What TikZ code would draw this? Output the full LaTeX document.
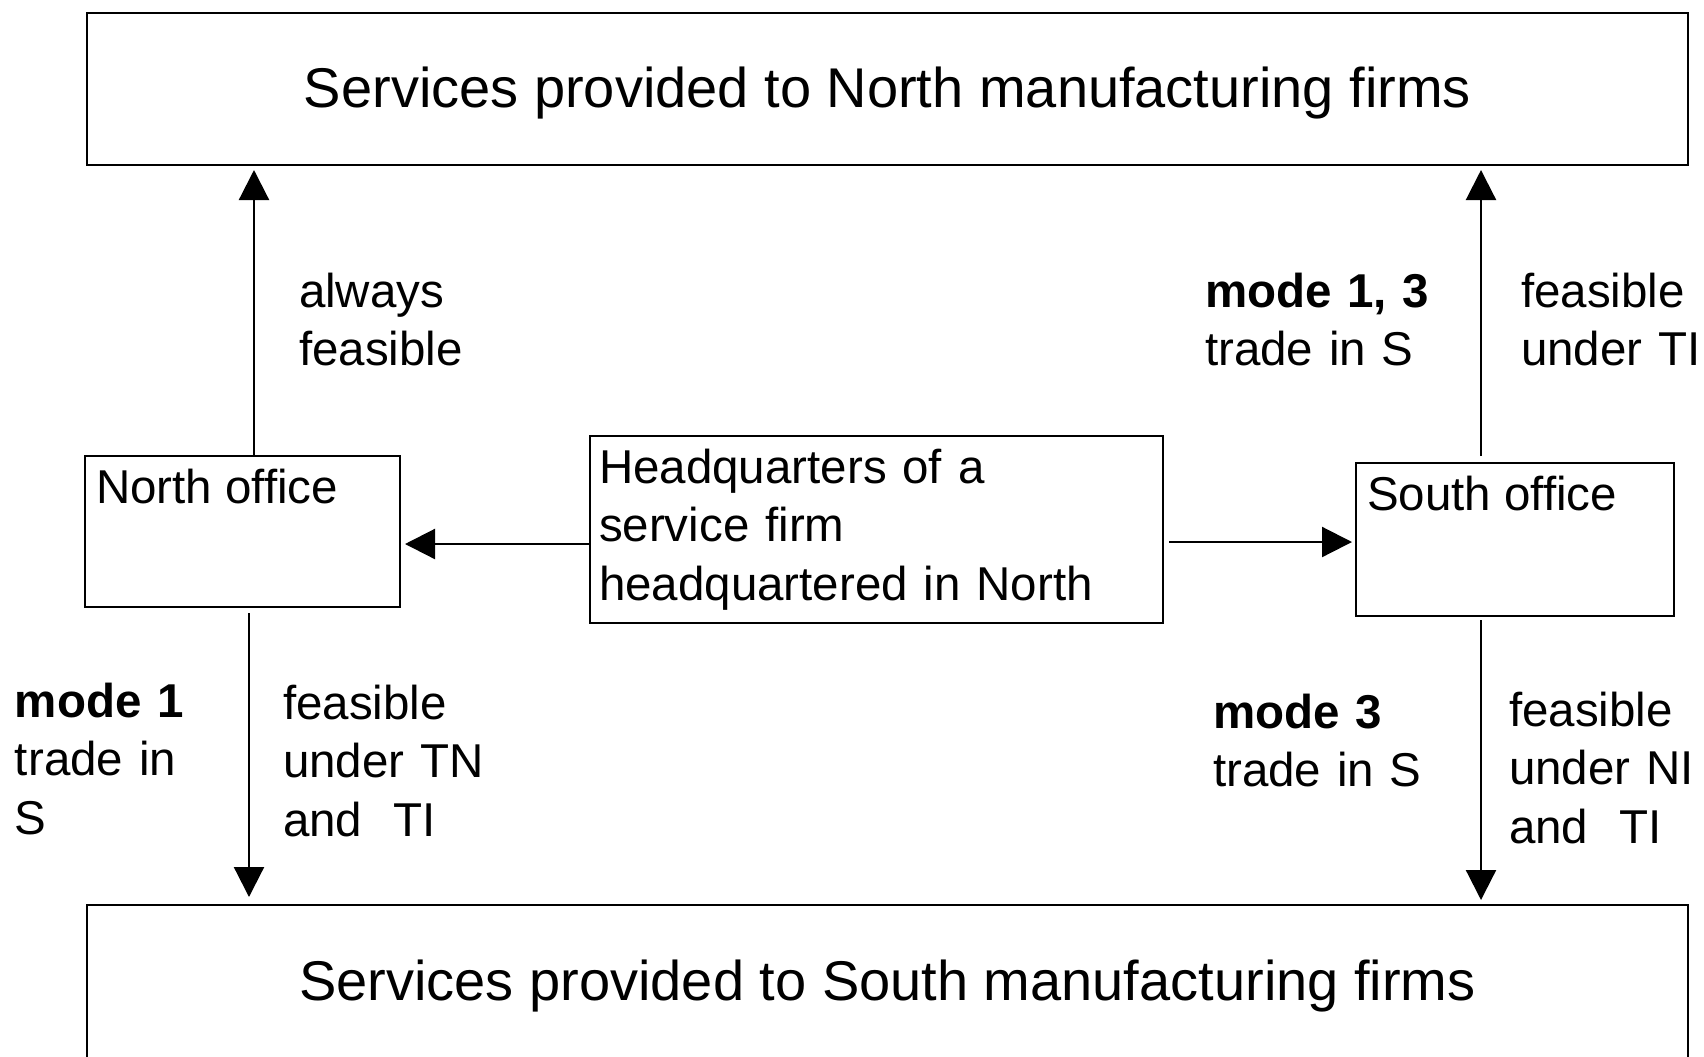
\documentclass[tikz,border=0pt]{standalone}
\usepackage{fontspec}
\setmainfont{Liberation Sans}
\usetikzlibrary{arrows.meta}
\newcommand\labfont{\fontsize{23.75pt}{29.25pt}\selectfont}
\newcommand\titlefont{\fontsize{28pt}{34pt}\selectfont}
\begin{document}
\begin{tikzpicture}[x=0.5pt, y=-0.5pt,
  every node/.style={inner sep=0pt, outer sep=0pt},
  bigbox/.style={draw, line width=1.1pt, minimum width=800.5pt, minimum height=76pt,
                 font=\titlefont, text height=18pt, text depth=0pt},
  officebox/.style={draw, line width=1.1pt},
  officetext/.style={anchor=base west, xshift=5.5pt, yshift=-23.5pt, font=\labfont},
  lab/.style={anchor=base west, align=left, text width=130pt, font=\labfont},
  arr/.style={line width=1.1pt, -{Triangle[length=15pt,width=15pt]}}]
\useasboundingbox (0,0) rectangle (1704,1056);
\clip (0,0) rectangle (1704,1056);

% market boxes
\node[bigbox] (top) at (887.5,89) {Services provided to North manufacturing firms};
\node[bigbox, minimum height=77pt] (bot) at (887.5,982) {Services provided to South manufacturing firms};

% headquarters and the two offices
\node[draw, line width=1.1pt, minimum width=286.5pt, minimum height=93.5pt,
      text width=277.5pt, inner xsep=4.5pt, align=left, font=\labfont]
      (hq) at (876.5,529.5) {Headquarters of a\\service firm\\headquartered in North};
\node[officebox, minimum width=157.5pt, minimum height=75.5pt,
      label={[name=nlab, officetext]north west:North office}] (nbox) at (242.5,531.5) {};
\node[officebox, minimum width=159pt, minimum height=76.5pt,
      label={[name=slab, officetext]north west:South office}] (sbox) at (1515,539.5) {};

% connector positions
\coordinate (upN) at (254,0);
\coordinate (dnN) at (249,0);
\coordinate (upS) at (1481,0);
\coordinate (dnS) at (1481,0);
\coordinate (lvlN) at (0,544);
\coordinate (lvlS) at (0,542);

\draw[arr, shorten >=2.5pt] (nbox.north -| upN) -- (top.south -| upN);
\draw[arr, shorten <=3.5pt, shorten >=2.5pt] (sbox.north -| upS) -- (top.south -| upS);
\draw[arr, shorten >=2.5pt] (hq.west |- lvlN) -- (nbox.east |- lvlN);
\draw[arr, shorten <=3pt, shorten >=2pt] (hq.east |- lvlS) -- (sbox.west |- lvlS);
\draw[arr, shorten <=3pt, shorten >=4pt] (nbox.south -| dnN) -- (bot.north -| dnN);
\draw[arr, shorten <=2pt, shorten >=2.5pt] (sbox.south -| dnS) -- (bot.north -| dnS);

% arrow labels
\node[lab] (l1) at (299,307) {always\\feasible};
\node[lab] (l2) at (1205,307) {\textbf{mode 1, 3}\\trade in S};
\node[lab] (l3) at (1521,307) {feasible\\under TI};
\node[lab] (l4) at (15,717) {\textbf{mode 1}\\trade in\\S};
\node[lab] (l5) at (283,719) {feasible\\under TN\\and\ \ TI};
\node[lab] (l6) at (1213,728) {\textbf{mode 3}\\trade in S};
\node[lab] (l7) at (1509,726) {feasible\\under NI\\and\ \ TI};
\end{tikzpicture}
\end{document}
